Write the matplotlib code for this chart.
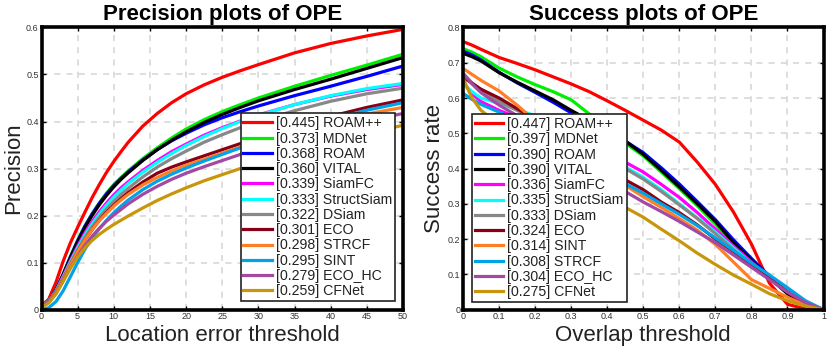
import numpy as np
import matplotlib.pyplot as plt
from matplotlib.ticker import FuncFormatter

plt.rcParams['font.family'] = ['Liberation Sans', 'DejaVu Sans']

# ---- precision plot data (location error threshold) ----
prec_x = [0, 1, 2, 3, 4, 5, 6, 7, 8, 9, 10, 11, 12, 14, 16, 18, 20, 22.5, 25, 27.5, 30, 35, 40, 45, 50]
prec_names = ['[0.445] ROAM++', '[0.373] MDNet', '[0.368] ROAM', '[0.360] VITAL',
              '[0.339] SiamFC', '[0.333] StructSiam', '[0.322] DSiam', '[0.301] ECO',
              '[0.298] STRCF', '[0.295] SINT', '[0.279] ECO_HC', '[0.259] CFNet']
prec_roampp = [0.008, 0.022, 0.058, 0.103, 0.142, 0.175, 0.207, 0.238, 0.266, 0.292, 0.315, 0.336, 0.356,
               0.39, 0.417, 0.44, 0.459, 0.478, 0.494, 0.508, 0.521, 0.546, 0.566, 0.582, 0.596]
prec_mdnet = [0.008, 0.018, 0.042, 0.076, 0.113, 0.148, 0.178, 0.204, 0.227, 0.248, 0.266, 0.281, 0.295,
              0.321, 0.344, 0.365, 0.384, 0.404, 0.421, 0.436, 0.45, 0.475, 0.498, 0.52, 0.543]
prec_roam = [0.008, 0.018, 0.042, 0.075, 0.112, 0.146, 0.177, 0.203, 0.226, 0.246, 0.264, 0.279, 0.293,
             0.318, 0.34, 0.359, 0.375, 0.393, 0.408, 0.421, 0.433, 0.455, 0.475, 0.496, 0.518]
prec_vital = [0.008, 0.018, 0.041, 0.074, 0.11, 0.144, 0.174, 0.2, 0.223, 0.243, 0.261, 0.277, 0.291,
              0.317, 0.34, 0.36, 0.378, 0.398, 0.415, 0.43, 0.444, 0.468, 0.49, 0.513, 0.536]
prec_siamfc = [0.008, 0.018, 0.04, 0.071, 0.104, 0.135, 0.163, 0.187, 0.208, 0.227, 0.244, 0.259, 0.272,
               0.296, 0.317, 0.336, 0.352, 0.371, 0.387, 0.401, 0.414, 0.436, 0.454, 0.468, 0.479]
prec_structsiam = [0.008, 0.018, 0.039, 0.069, 0.101, 0.131, 0.158, 0.182, 0.203, 0.222, 0.239, 0.254, 0.268,
                   0.292, 0.313, 0.332, 0.349, 0.368, 0.385, 0.4, 0.413, 0.436, 0.455, 0.47, 0.481]
prec_dsiam = [0.008, 0.018, 0.038, 0.067, 0.098, 0.127, 0.153, 0.176, 0.196, 0.214, 0.23, 0.245, 0.258,
              0.282, 0.303, 0.321, 0.337, 0.356, 0.372, 0.387, 0.4, 0.423, 0.443, 0.459, 0.471]
prec_eco = [0.008, 0.017, 0.037, 0.065, 0.095, 0.123, 0.148, 0.17, 0.19, 0.207, 0.222, 0.236, 0.249,
            0.271, 0.29, 0.303, 0.314, 0.327, 0.34, 0.353, 0.366, 0.39, 0.411, 0.43, 0.446]
prec_strcf = [0.008, 0.017, 0.037, 0.065, 0.095, 0.123, 0.148, 0.17, 0.189, 0.205, 0.22, 0.233, 0.245,
              0.265, 0.281, 0.295, 0.307, 0.32, 0.333, 0.346, 0.358, 0.38, 0.4, 0.416, 0.43]
prec_sint = [0.0, 0.004, 0.017, 0.04, 0.07, 0.1, 0.128, 0.152, 0.172, 0.19, 0.206, 0.22, 0.233,
             0.255, 0.273, 0.288, 0.301, 0.316, 0.33, 0.344, 0.357, 0.382, 0.405, 0.424, 0.44]
prec_ecohc = [0.008, 0.016, 0.035, 0.062, 0.089, 0.114, 0.136, 0.156, 0.173, 0.188, 0.201, 0.213, 0.225,
              0.245, 0.262, 0.277, 0.29, 0.304, 0.317, 0.33, 0.342, 0.365, 0.385, 0.402, 0.417]
prec_cfnet = [0.005, 0.014, 0.033, 0.06, 0.088, 0.112, 0.131, 0.147, 0.16, 0.171, 0.181, 0.19, 0.199,
              0.216, 0.232, 0.246, 0.259, 0.274, 0.287, 0.3, 0.312, 0.335, 0.356, 0.375, 0.392]
prec_series = [prec_roampp, prec_mdnet, prec_roam, prec_vital, prec_siamfc, prec_structsiam,
               prec_dsiam, prec_eco, prec_strcf, prec_sint, prec_ecohc, prec_cfnet]

# ---- success plot data (overlap threshold) ----
succ_x = [0, 0.025, 0.05, 0.1, 0.15, 0.2, 0.25, 0.3, 0.35, 0.4, 0.45, 0.5,
          0.55, 0.6, 0.65, 0.7, 0.75, 0.8, 0.85, 0.9, 0.95, 1.0]
succ_names = ['[0.447] ROAM++', '[0.397] MDNet', '[0.390] ROAM', '[0.390] VITAL',
              '[0.336] SiamFC', '[0.335] StructSiam', '[0.333] DSiam', '[0.324] ECO',
              '[0.314] SINT', '[0.308] STRCF', '[0.304] ECO_HC', '[0.275] CFNet']
succ_roampp = [0.76, 0.75, 0.738, 0.715, 0.698, 0.68, 0.66, 0.64, 0.618, 0.592, 0.565, 0.537,
               0.509, 0.475, 0.418, 0.355, 0.277, 0.186, 0.075, 0.015, 0.002, 0.0]
succ_mdnet = [0.74, 0.73, 0.717, 0.685, 0.66, 0.638, 0.618, 0.595, 0.555, 0.512, 0.472, 0.436,
              0.39, 0.343, 0.294, 0.242, 0.182, 0.132, 0.088, 0.048, 0.015, 0.0]
succ_roam = [0.733, 0.722, 0.708, 0.673, 0.643, 0.616, 0.588, 0.558, 0.53, 0.503, 0.478, 0.445,
             0.402, 0.356, 0.306, 0.255, 0.198, 0.145, 0.095, 0.05, 0.015, 0.0]
succ_vital = [0.727, 0.717, 0.705, 0.672, 0.645, 0.62, 0.595, 0.565, 0.537, 0.508, 0.478, 0.44,
              0.395, 0.348, 0.3, 0.25, 0.19, 0.14, 0.09, 0.045, 0.012, 0.0]
succ_siamfc = [0.645, 0.612, 0.59, 0.565, 0.545, 0.525, 0.5, 0.478, 0.458, 0.438, 0.418, 0.39,
               0.355, 0.318, 0.275, 0.228, 0.18, 0.135, 0.09, 0.05, 0.018, 0.0]
succ_structsiam = [0.64, 0.618, 0.6, 0.585, 0.567, 0.55, 0.525, 0.498, 0.47, 0.44, 0.405, 0.375,
                   0.34, 0.3, 0.26, 0.22, 0.175, 0.13, 0.092, 0.055, 0.02, 0.0]
succ_dsiam = [0.67, 0.643, 0.62, 0.59, 0.565, 0.54, 0.515, 0.49, 0.465, 0.435, 0.4, 0.37,
              0.335, 0.297, 0.258, 0.215, 0.17, 0.125, 0.088, 0.05, 0.018, 0.0]
succ_eco = [0.659, 0.642, 0.625, 0.6, 0.57, 0.54, 0.505, 0.47, 0.44, 0.405, 0.368, 0.34,
            0.305, 0.275, 0.24, 0.2, 0.165, 0.128, 0.09, 0.05, 0.017, 0.0]
succ_sint = [0.684, 0.667, 0.65, 0.62, 0.58, 0.535, 0.49, 0.455, 0.42, 0.385, 0.352, 0.32,
             0.29, 0.258, 0.225, 0.185, 0.135, 0.085, 0.06, 0.035, 0.012, 0.0]
succ_strcf = [0.613, 0.596, 0.582, 0.56, 0.535, 0.51, 0.48, 0.45, 0.42, 0.39, 0.357, 0.33,
              0.3, 0.27, 0.238, 0.203, 0.168, 0.132, 0.098, 0.062, 0.025, 0.0]
succ_ecohc = [0.67, 0.64, 0.615, 0.58, 0.55, 0.515, 0.475, 0.435, 0.4, 0.37, 0.335, 0.305,
              0.278, 0.25, 0.22, 0.19, 0.155, 0.12, 0.085, 0.05, 0.02, 0.0]
succ_cfnet = [0.656, 0.6, 0.565, 0.525, 0.49, 0.46, 0.43, 0.395, 0.36, 0.325, 0.29, 0.262,
              0.228, 0.195, 0.16, 0.128, 0.098, 0.072, 0.045, 0.025, 0.01, 0.0]
succ_series = [succ_roampp, succ_mdnet, succ_roam, succ_vital, succ_siamfc, succ_structsiam,
               succ_dsiam, succ_eco, succ_sint, succ_strcf, succ_ecohc, succ_cfnet]

colors = ['#ff0000', '#00ee00', '#0000ff', '#000000', '#ff00ff', '#00ffff',
          '#888888', '#880015', '#ff7f27', '#00a2e8', '#a349a4', '#c8960a']


def style_axes(ax, xlim, ylim, xticks, yticks):
    ax.set_xlim(*xlim)
    ax.set_ylim(*ylim)
    ax.set_xticks(xticks)
    ax.set_yticks(yticks)
    fmt = FuncFormatter(lambda v, p: '%g' % round(v, 2))
    ax.xaxis.set_major_formatter(fmt)
    ax.yaxis.set_major_formatter(fmt)
    ax.grid(True, color='#d4d4d4', linestyle=(0, (4, 4)), linewidth=1.1)
    ax.set_axisbelow(True)
    ax.tick_params(direction='in', top=True, right=True, length=3, width=1,
                   labelsize=6.5, labelcolor='#333333', pad=2)
    for s in ax.spines.values():
        s.set_linewidth(2.6)


def add_legend(ax, loc, anchor):
    leg = ax.legend(loc=loc, bbox_to_anchor=anchor, fontsize=10.2,
                    handlelength=2.0, handletextpad=0.3, labelspacing=0.09,
                    borderpad=0.2, borderaxespad=0, fancybox=False, framealpha=1)
    leg.get_frame().set_edgecolor('#222222')
    leg.get_frame().set_linewidth(1.2)
    for t in leg.get_texts():
        t.set_color('#222222')


fig = plt.figure(figsize=(8.3, 3.51), dpi=100)
ax1 = fig.add_axes([0.05, 0.118, 0.4355, 0.8037])
ax2 = fig.add_axes([0.5578, 0.118, 0.4344, 0.8037])

for ys, c, name in zip(prec_series, colors, prec_names):
    ax1.plot(prec_x, ys, color=c, lw=2.3, label=name)
style_axes(ax1, (0, 50), (0, 0.6), range(0, 51, 5), np.arange(0, 0.61, 0.1))
ax1.set_title('Precision plots of OPE', fontsize=16, fontweight='bold', pad=5.5)
ax1.set_xlabel('Location error threshold', fontsize=16, color='#222222', labelpad=2.5)
ax1.set_ylabel('Precision', fontsize=16, color='#222222', labelpad=1.5)
add_legend(ax1, 'lower right', (0.978, 0.03))

for ys, c, name in zip(succ_series, colors, succ_names):
    ax2.plot(succ_x, ys, color=c, lw=2.3, label=name)
style_axes(ax2, (0, 1), (0, 0.8), np.arange(0, 1.01, 0.1), np.arange(0, 0.81, 0.1))
ax2.set_title('Success plots of OPE', fontsize=16, fontweight='bold', pad=5.5)
ax2.set_xlabel('Overlap threshold', fontsize=16, color='#222222', labelpad=2.5)
ax2.set_ylabel('Success rate', fontsize=16, color='#222222', labelpad=1.5)
add_legend(ax2, 'lower left', (0.025, 0.027))

fig.savefig('out.png', dpi=100)
